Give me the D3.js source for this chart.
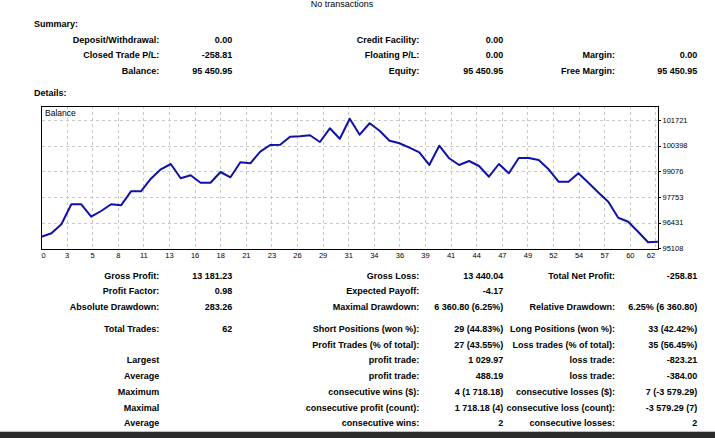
<!DOCTYPE html>
<html>
<head>
<meta charset="utf-8">
<script src="https://cdn.jsdelivr.net/npm/d3@7"></script>
<style>
  html, body { margin: 0; padding: 0; background: #fff; overflow: hidden; }
  svg { display: block; }
  .t { font-family: "Liberation Sans", Arial, sans-serif; font-size: 9px; font-weight: bold; fill: #000; }
  .small { font-family: "Liberation Sans", Arial, sans-serif; font-size: 7.5px; fill: #000; }
</style>
</head>
<body>
<script>
// balance after each trade (0 = start)
const balance = [
  95709.76, 95886, 96350, 97380, 97380, 96741, 97034, 97380, 97328, 98049,
  98049, 98698, 99182, 99455, 98719, 98873, 98492, 98492, 99043, 98770,
  99543, 99491, 100089, 100434, 100450, 100862, 100882, 100934, 100589, 101294,
  100757, 101787.3, 100964, 101552, 101171, 100656, 100522, 100295, 100058, 99404,
  100398, 99749, 99404, 99610, 99352, 98801, 99455, 98976, 99765, 99765,
  99661, 99182, 98544, 98544, 98976, 98492, 97987, 97514, 96689, 96483,
  95968, 95426.50, 95450.95
];
const xTickLabels = ["0","3","5","8","11","13","16","18","21","23","26","29","31","34","36","39","41","44","47","49","52","54","57","60","62"];
const yTicks = [95108, 96431, 97753, 99076, 100398, 101721];

// summary block
const summaryRows = [
  ["Deposit/Withdrawal:", "0.00", "Credit Facility:", "0.00", "", ""],
  ["Closed Trade P/L:", "-258.81", "Floating P/L:", "0.00", "Margin:", "0.00"],
  ["Balance:", "95 450.95", "Equity:", "95 450.95", "Free Margin:", "95 450.95"]
];
// report block
const reportRows = [
  ["Gross Profit:", "13 181.23", "Gross Loss:", "13 440.04", "Total Net Profit:", "-258.81"],
  ["Profit Factor:", "0.98", "Expected Payoff:", "-4.17", "", ""],
  ["Absolute Drawdown:", "283.26", "Maximal Drawdown:", "6 360.80 (6.25%)", "Relative Drawdown:", "6.25% (6 360.80)"],
  ["Total Trades:", "62", "Short Positions (won %):", "29 (44.83%)", "Long Positions (won %):", "33 (42.42%)"],
  ["", "", "Profit Trades (% of total):", "27 (43.55%)", "Loss trades (% of total):", "35 (56.45%)"],
  ["Largest", "", "profit trade:", "1 029.97", "loss trade:", "-823.21"],
  ["Average", "", "profit trade:", "488.19", "loss trade:", "-384.00"],
  ["Maximum", "", "consecutive wins ($):", "4 (1 718.18)", "consecutive losses ($):", "7 (-3 579.29)"],
  ["Maximal", "", "consecutive profit (count):", "1 718.18 (4)", "consecutive loss (count):", "-3 579.29 (7)"],
  ["Average", "", "consecutive wins:", "2", "consecutive losses:", "2"]
];

const width = 715, height = 438;
const colX = [159.3, 232.3, 419.3, 503.3, 615, 697.3];

const svg = d3.select("body").append("svg")
  .attr("width", width).attr("height", height);

svg.append("text").attr("class", "small")
  .style("font-size", "9px")
  .attr("x", 342).attr("y", 6.5).attr("text-anchor", "middle")
  .text("No transactions");

svg.append("text").attr("class", "t").attr("x", 34).attr("y", 27.3).text("Summary:");
svg.append("text").attr("class", "t").attr("x", 34).attr("y", 95.7).text("Details:");

function drawRows(rows, baselines) {
  rows.forEach((row, r) => {
    row.forEach((txt, c) => {
      if (!txt) return;
      svg.append("text").attr("class", "t")
        .attr("x", colX[c]).attr("y", baselines[r])
        .attr("text-anchor", "end")
        .text(txt);
    });
  });
}
drawRows(summaryRows, [42.7, 58.3, 74]);
drawRows(reportRows, [279, 294.3, 310, 332, 347.7, 363, 379, 395, 410.7, 426]);

// chart
const plotL = 41.5, plotR = 658, plotT = 106, plotB = 249;
const x = d3.scaleLinear().domain([0, balance.length - 1]).range([plotL, plotR]);
const y = d3.scaleLinear().domain([yTicks[0], yTicks[yTicks.length - 1]]).range([248.4, 120]);
const gridStep = 25.6;

const grid = svg.append("g")
  .attr("stroke", "#c8c8c8").attr("stroke-width", 1)
  .attr("stroke-dasharray", "3,3").attr("shape-rendering", "crispEdges");

grid.selectAll(".vg").data(xTickLabels.slice(1)).join("line")
  .attr("x1", (d, i) => plotL + (i + 1) * gridStep)
  .attr("x2", (d, i) => plotL + (i + 1) * gridStep)
  .attr("y1", plotT).attr("y2", plotB);

grid.selectAll(".hg").data(yTicks.slice(1)).join("line")
  .attr("x1", plotL).attr("x2", plotR)
  .attr("y1", d => Math.round(y(d)) + 0.5).attr("y2", d => Math.round(y(d)) + 0.5);

svg.append("path")
  .datum(balance)
  .attr("fill", "none")
  .attr("stroke", "#1010aa")
  .attr("stroke-width", 2)
  .attr("stroke-linejoin", "round")
  .attr("d", d3.line().x((d, i) => x(i)).y(d => y(d)));

svg.append("rect")
  .attr("x", 41).attr("y", plotT)
  .attr("width", plotR - 41).attr("height", plotB - plotT)
  .attr("fill", "none").attr("stroke", "#000").attr("stroke-width", 1)
  .attr("shape-rendering", "crispEdges");

svg.append("text").attr("class", "small")
  .style("font-size", "8.5px")
  .attr("x", 45).attr("y", 116).text("Balance");

// y axis on the right
svg.selectAll(".ytick").data(yTicks).join("line")
  .attr("x1", plotR).attr("x2", plotR + 3)
  .attr("y1", d => Math.round(y(d)) + 0.5).attr("y2", d => Math.round(y(d)) + 0.5)
  .attr("stroke", "#000").attr("shape-rendering", "crispEdges");

svg.selectAll(".ylab").data(yTicks).join("text")
  .attr("class", "small")
  .attr("x", plotR + 4.5)
  .attr("y", d => y(d) + 2.7)
  .text(d => d);

// x axis labels
svg.selectAll(".xlab").data(xTickLabels).join("text")
  .attr("class", "small")
  .attr("x", (d, i) => Math.min(plotL + i * gridStep, plotR - 7))
  .attr("y", 257.8)
  .attr("text-anchor", (d, i) => i === 0 ? "start" : "middle")
  .text(d => d);

// bottom dark strip
svg.append("rect")
  .attr("x", 0).attr("y", 431.7).attr("width", width).attr("height", height - 431.7)
  .attr("fill", "#2b2b2b");
</script>
</body>
</html>
